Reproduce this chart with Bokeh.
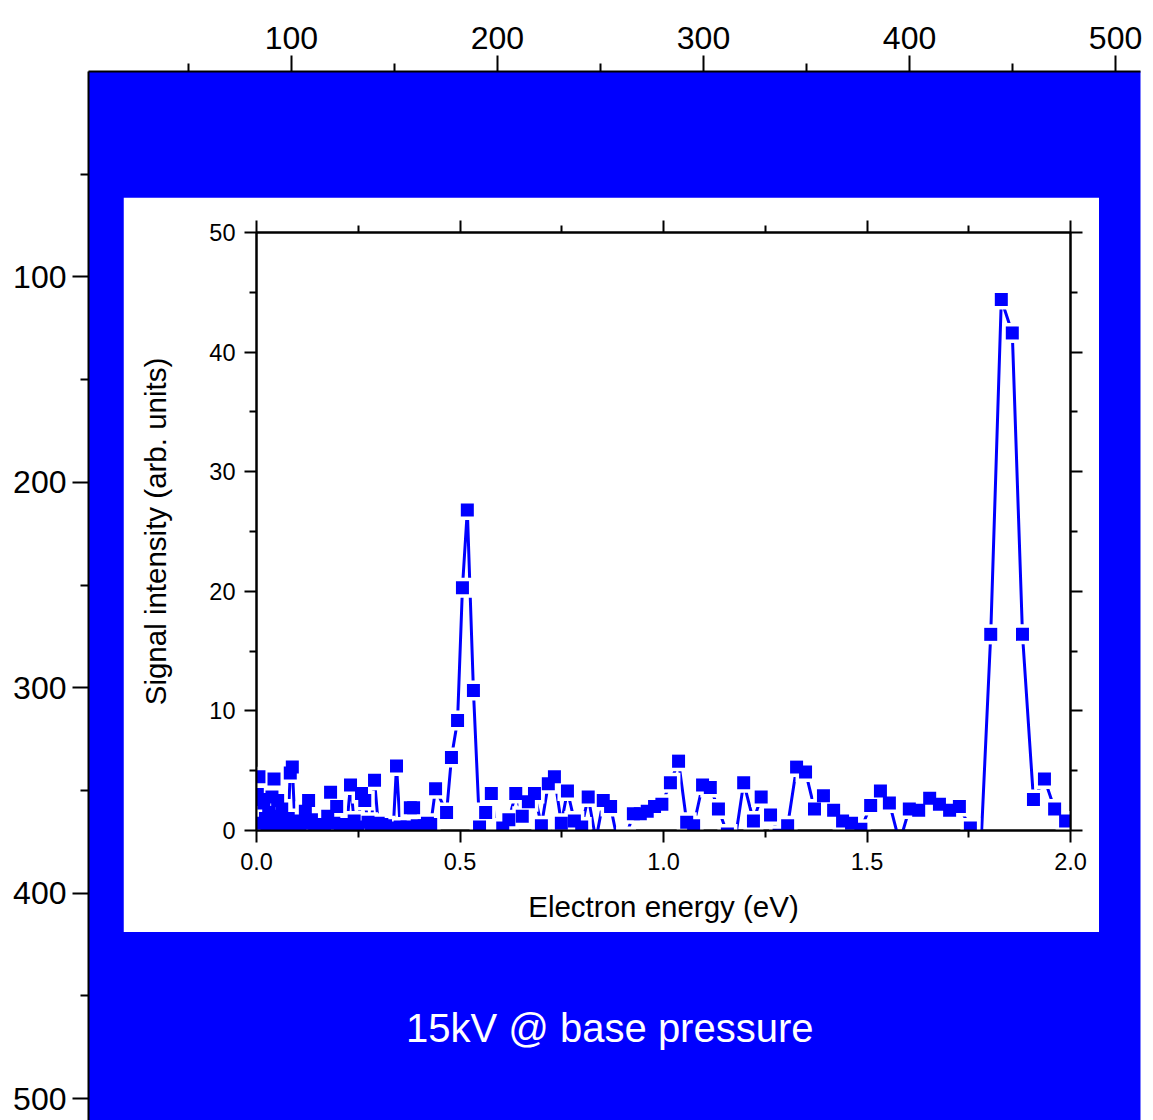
from bokeh.plotting import figure
from bokeh.models import (Range1d, LinearAxis, FixedTicker, PrintfTickFormatter,
                          ColumnDataSource, CustomLabelingPolicy, CustomJSTickFormatter)
from bokeh.layouts import column
from bokeh.embed import file_html
from bokeh.resources import INLINE
from bokeh.core.properties import value

# ---------------- data ----------------
outer_x_ticks = [100, 200, 300, 400, 500]
outer_x_minor = [50, 150, 250, 350, 450]
outer_y_ticks = [100, 200, 300, 400, 500]
outer_y_minor = [50, 150, 250, 350, 450]

energy_ticks = [0.0, 0.5, 1.0, 1.5, 2.0]
energy_minor = [0.25, 0.75, 1.25, 1.75]
signal_ticks = [0, 10, 20, 30, 40, 50]
signal_minor = [5, 15, 25, 35, 45]

energy = [0.002, 0.006, 0.010, 0.014, 0.018, 0.022, 0.026, 0.030, 0.034, 0.038,
          0.043, 0.047, 0.052, 0.057, 0.062, 0.067, 0.072, 0.078, 0.083, 0.088,
          0.094, 0.100, 0.106, 0.113, 0.120, 0.128, 0.135, 0.143, 0.151, 0.159,
          0.167, 0.175, 0.182, 0.190, 0.197, 0.206, 0.214, 0.222, 0.231, 0.240,
          0.249, 0.258, 0.266, 0.274, 0.282, 0.290, 0.299, 0.308, 0.317, 0.326,
          0.335, 0.344, 0.353, 0.361, 0.370, 0.378, 0.386, 0.395, 0.403, 0.412,
          0.420, 0.428, 0.440, 0.467, 0.479, 0.494, 0.506, 0.518, 0.533, 0.548,
          0.563, 0.577, 0.591, 0.605, 0.620, 0.637, 0.653, 0.668, 0.683, 0.700,
          0.717, 0.732, 0.749, 0.764, 0.781, 0.799, 0.815, 0.834, 0.852, 0.870,
          0.888, 0.908, 0.926, 0.943, 0.960, 0.978, 0.996, 1.017, 1.037, 1.057,
          1.074, 1.096, 1.115, 1.135, 1.157, 1.176, 1.197, 1.221, 1.240, 1.263,
          1.284, 1.305, 1.327, 1.349, 1.371, 1.393, 1.418, 1.440, 1.462, 1.485,
          1.509, 1.533, 1.555, 1.580, 1.604, 1.627, 1.654, 1.678, 1.703, 1.727,
          1.754, 1.779, 1.804, 1.830, 1.857, 1.882, 1.909, 1.936, 1.961, 1.988]

signal = [3.0, 4.5, 2.6, 0.6, 2.3, 1.0, 0.3, 1.5, 0.5, 2.8,
          4.3, 1.2, 2.5, 0.3, 1.8, 0.8, 0.2, 1.0, 4.8, 5.3,
          0.8, 0.4, 0.5, 0.6, 1.6, 2.5, 0.9, 0.5, 0.4, 0.5,
          0.5, 1.2, 3.2, 0.6, 2.0, 0.5, 0.4, 0.5, 3.8, 0.8,
          0.3, 3.1, 2.5, 0.7, 0.4, 4.2, 0.6, 0.5, 0.4, 0.2,
          -0.5, 5.4, 0.3, -0.3, 0.3, 1.9, 1.9, 0.4, 0.3, 0.4,
          0.6, 0.5, 3.5, 1.5, 6.1, 9.2, 20.3, 26.8, 11.7, 0.3,
          1.5, 3.1, -0.5, 0.2, 0.9, 3.1, 1.2, 2.4, 3.1, 0.4,
          3.9, 4.5, 0.6, 3.3, 0.8, 0.3, 2.8, -0.8, 2.5, 2.0,
          -1.0, -0.5, 1.4, 1.4, 1.6, 2.0, 2.2, 4.0, 5.8, 0.7,
          0.4, 3.8, 3.6, 1.8, -0.3, -0.8, 4.0, 0.8, 2.8, 1.3,
          -0.4, 0.4, 5.3, 4.9, 1.8, 2.9, 1.7, 0.8, 0.6, 0.1,
          2.1, 3.3, 2.3, -1.0, 1.8, 1.7, 2.7, 2.2, 1.7, 2.0,
          0.2, -2.0, 16.4, 44.4, 41.6, 16.4, 2.6, 4.3, 1.8, 0.8]

caption = "15kV @ base pressure"
caption_x = [254.5]
caption_y = [465.5]

FONT = "Liberation Sans"
BLUE = "#0000ff"

# ---------------- outer (image) frame ----------------
po = figure(width=1145, height=1120, x_range=Range1d(1.5, 512.1), y_range=Range1d(510.7, 0),
            output_backend="svg", toolbar_location=None, x_axis_location="above",
            min_border_left=88, min_border_top=71, min_border_right=5, min_border_bottom=0)
po.frame_align = False
po.background_fill_color = BLUE
po.border_fill_color = "white"
po.outline_line_color = None
po.grid.visible = False
po.xaxis.ticker = FixedTicker(ticks=outer_x_ticks, minor_ticks=outer_x_minor)
po.yaxis.ticker = FixedTicker(ticks=outer_y_ticks, minor_ticks=outer_y_minor)
for ax in (po.above[0], po.left[0]):
    ax.axis_line_width = 2
    ax.axis_line_color = "black"
    ax.major_tick_line_width = 2
    ax.minor_tick_line_width = 2
    ax.major_tick_out = 16
    ax.major_tick_in = 0
    ax.minor_tick_out = 8
    ax.minor_tick_in = 0
    ax.major_label_text_font = FONT
    ax.major_label_text_font_size = "32px"
    ax.major_label_text_color = "black"
po.above[0].major_label_standoff = 7
po.left[0].major_label_standoff = 6
po.text(x=caption_x, y=caption_y, text=[caption], text_font=value(FONT),
        text_font_size="40px", text_color="white", text_align="center",
        text_baseline="middle")

# ---------------- inner chart ----------------
pi = figure(width=976, height=735, x_range=Range1d(0, 2), y_range=Range1d(0, 50),
            output_backend="svg", toolbar_location=None,
            min_border_left=133, min_border_right=29, min_border_top=35, min_border_bottom=102)
pi.frame_align = False
pi.background_fill_color = "white"
pi.border_fill_color = "white"
pi.outline_line_color = "black"
pi.outline_line_width = 2
pi.grid.visible = False

no_labels = CustomLabelingPolicy(code="for (const i of indices) indices.unset(i)")
pi.add_layout(LinearAxis(major_label_policy=no_labels,
                         formatter=CustomJSTickFormatter(code="return ''")), "above")
pi.add_layout(LinearAxis(major_label_policy=no_labels,
                         formatter=CustomJSTickFormatter(code="return ''")), "right")

bottom, top_ax = pi.below[0], pi.above[0]
left, right_ax = pi.left[0], pi.right[0]

bottom.ticker = FixedTicker(ticks=energy_ticks, minor_ticks=energy_minor)
top_ax.ticker = FixedTicker(ticks=energy_ticks, minor_ticks=energy_minor)
bottom.formatter = PrintfTickFormatter(format="%.1f")
left.ticker = FixedTicker(ticks=signal_ticks, minor_ticks=signal_minor)
right_ax.ticker = FixedTicker(ticks=signal_ticks, minor_ticks=signal_minor)

for ax in (bottom, top_ax, left, right_ax):
    ax.axis_line_width = 2
    ax.major_tick_line_width = 2
    ax.minor_tick_line_width = 2
    ax.major_tick_out = 12
    ax.major_tick_in = 0
    ax.minor_tick_out = 7
    ax.minor_tick_in = 0
    ax.major_label_text_font = FONT
    ax.major_label_text_font_size = "23.5px"
    ax.major_label_text_color = "black"
    ax.axis_label_text_font = FONT
    ax.axis_label_text_font_size = "29.5px"
    ax.axis_label_text_font_style = "normal"
    ax.axis_label_text_color = "black"

bottom.axis_label = "Electron energy (eV)"
left.axis_label = "Signal intensity (arb. units)"
bottom.major_label_standoff = 10
left.major_label_standoff = 9
bottom.axis_label_standoff = 17
left.axis_label_standoff = 34

src = ColumnDataSource(dict(x=energy, y=signal))
pi.line("x", "y", source=src, line_color=BLUE, line_width=3)
pi.scatter("x", "y", source=src, marker="square", size=20, fill_color="white", line_color=None)
pi.scatter("x", "y", source=src, marker="square", size=13, fill_color=BLUE, line_color=None)

pi.margin = (-923, 0, 188, 123)

layout = column(po, pi)
layout.margin = 0
open("out.html", "w").write(file_html(layout, INLINE))
